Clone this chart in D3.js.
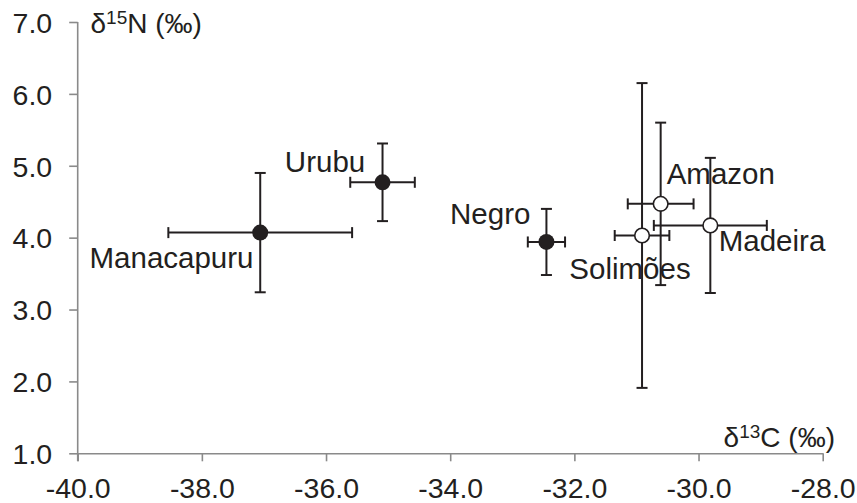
<!DOCTYPE html>
<html>
<head>
<meta charset="utf-8">
<script src="https://cdn.jsdelivr.net/npm/d3@7"></script>
<style>
  body { margin: 0; background: #fff; }
  svg text { font-family: "Liberation Sans", Arial, sans-serif; fill: #231f20; }
</style>
</head>
<body>
<div id="chart-area"></div>
<script>
// Sites and their mean isotope values with +/- 1 SD
var sites = ["Manacapuru", "Urubu", "Negro", "Solimões", "Amazon", "Madeira"];
var d13C = [-37.06, -35.09, -32.45, -30.91, -30.61, -29.81];
var d13CSd = [1.48, 0.52, 0.30, 0.44, 0.53, 0.91];
var d15N = [4.07, 4.77, 3.94, 4.03, 4.47, 4.17];
var d15NSd = [0.83, 0.54, 0.46, 2.12, 1.13, 0.94];
var blackWater = [true, true, true, false, false, false];

var xTicks = [-40, -38, -36, -34, -32, -30, -28];
var yTicks = [1, 2, 3, 4, 5, 6, 7];

var width = 857,
    height = 503;

var data = sites.map(function(s, i) {
    return { site: s, x: d13C[i], xsd: d13CSd[i], y: d15N[i], ysd: d15NSd[i], filled: blackWater[i] };
});

var svg = d3.select("#chart-area").append("svg")
    .attr("width", width)
    .attr("height", height);

var xScale = d3.scaleLinear().domain([-40, -28]).range([77.7, 822.7]);
var yScale = d3.scaleLinear().domain([1, 7]).range([453.3, 22]);

var axisColor = "#8a8a8a";
var ink = "#231f20";

//x axis
var xAxis = d3.axisBottom(xScale)
    .tickValues(xTicks)
    .tickSize(8)
    .tickSizeOuter(0)
    .tickFormat(d3.format(".1f"));

var gx = svg.append("g")
    .attr("transform", "translate(0," + yScale(1) + ")")
    .call(xAxis);
gx.selectAll("path, line").attr("stroke", axisColor).attr("stroke-width", 1.6);
gx.selectAll("text")
    .attr("y", 44.5)
    .attr("dy", 0)
    .style("font-size", "28.5px")
    .text(function(d) { return d3.format(".1f")(d).replace("−", "-"); });

//y axis
var yAxis = d3.axisLeft(yScale)
    .tickValues(yTicks)
    .tickSize(8.5)
    .tickSizeOuter(0)
    .tickFormat(d3.format(".1f"));

var gy = svg.append("g")
    .attr("transform", "translate(" + xScale(-40) + ",0)")
    .call(yAxis);
gy.selectAll("path, line").attr("stroke", axisColor).attr("stroke-width", 1.6);
gy.selectAll("text")
    .attr("x", -25.5)
    .attr("dy", "0.36em")
    .style("font-size", "28.5px");
gy.select(".domain").attr("d", "M0," + yScale(7) + "V" + (yScale(1) + 8));

//axis titles
var yTitle = svg.append("text")
    .attr("x", 90.5)
    .attr("y", 33)
    .style("font-size", "28px");
yTitle.append("tspan").text("δ");
yTitle.append("tspan").attr("dy", -9).style("font-size", "19px").text("15");
yTitle.append("tspan").attr("dy", 9).text("N (‰)");

var xTitle = svg.append("text")
    .attr("x", 835)
    .attr("y", 446.5)
    .attr("text-anchor", "end")
    .style("font-size", "28px");
xTitle.append("tspan").text("δ");
xTitle.append("tspan").attr("dy", -9).style("font-size", "19px").text("13");
xTitle.append("tspan").attr("dy", 9).text("C (‰)");

//error bars
var cap = 5.5;
var bars = svg.append("g")
    .attr("stroke", ink)
    .attr("stroke-width", 2)
    .attr("fill", "none");

data.forEach(function(d) {
    var cx = xScale(d.x), cy = yScale(d.y);
    var x0 = xScale(d.x - d.xsd), x1 = xScale(d.x + d.xsd);
    var y0 = yScale(d.y - d.ysd), y1 = yScale(d.y + d.ysd);
    bars.append("line").attr("x1", x0).attr("x2", x1).attr("y1", cy).attr("y2", cy);
    bars.append("line").attr("x1", x0).attr("x2", x0).attr("y1", cy - cap).attr("y2", cy + cap);
    bars.append("line").attr("x1", x1).attr("x2", x1).attr("y1", cy - cap).attr("y2", cy + cap);
    bars.append("line").attr("x1", cx).attr("x2", cx).attr("y1", y0).attr("y2", y1);
    bars.append("line").attr("x1", cx - cap).attr("x2", cx + cap).attr("y1", y0).attr("y2", y0);
    bars.append("line").attr("x1", cx - cap).attr("x2", cx + cap).attr("y1", y1).attr("y2", y1);
});

//points
svg.selectAll(".pt")
    .data(data)
    .enter()
    .append("circle")
    .attr("cx", function(d) { return xScale(d.x); })
    .attr("cy", function(d) { return yScale(d.y); })
    .attr("r", function(d) { return d.filled ? 8 : 7.3; })
    .attr("fill", function(d) { return d.filled ? ink : "#fff"; })
    .attr("stroke", ink)
    .attr("stroke-width", function(d) { return d.filled ? 0 : 1.6; });

//site labels, placed relative to each point
var labelPos = {
    "Manacapuru": { dx: -6.7, dy: 35.6, anchor: "end" },
    "Urubu": { dx: -17.3, dy: -10.6, anchor: "end" },
    "Negro": { dx: -16, dy: -18.4, anchor: "end" },
    "Solimões": { dx: -72.7, dy: 43.6, anchor: "start" },
    "Amazon": { dx: 6, dy: -19.7, anchor: "start" },
    "Madeira": { dx: 8.4, dy: 26, anchor: "start" }
};

svg.selectAll(".lbl")
    .data(data)
    .enter()
    .append("text")
    .attr("x", function(d) { return xScale(d.x) + labelPos[d.site].dx; })
    .attr("y", function(d) { return yScale(d.y) + labelPos[d.site].dy; })
    .attr("text-anchor", function(d) { return labelPos[d.site].anchor; })
    .style("font-size", "29.5px")
    .text(function(d) { return d.site; });
</script>
</body>
</html>
